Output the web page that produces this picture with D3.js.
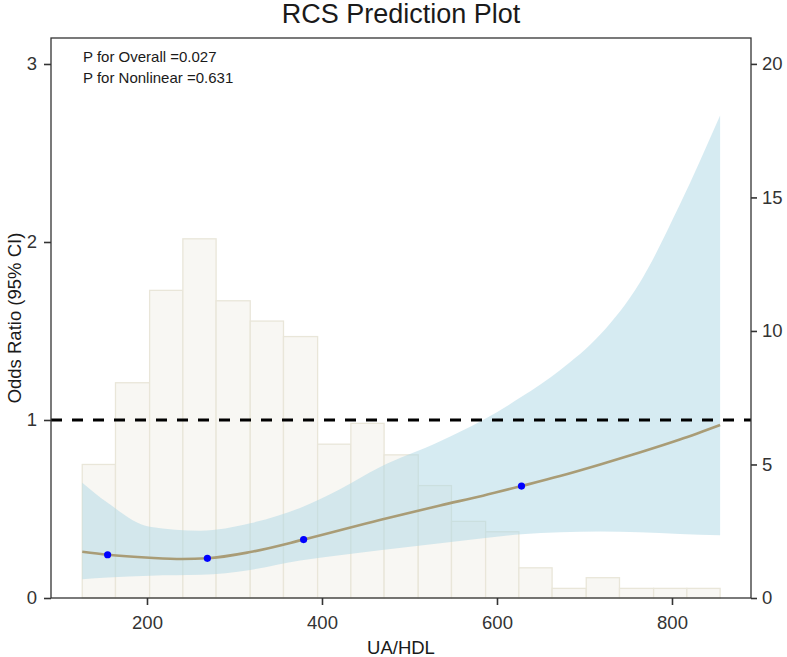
<!DOCTYPE html>
<html>
<head>
<meta charset="utf-8">
<script src="https://cdn.jsdelivr.net/npm/d3@7"></script>
<style>
body { margin: 0; background: #fff; }
text { font-family: "Liberation Sans", Arial, sans-serif; }
</style>
</head>
<body>
<svg id="chart" width="787" height="657"></svg>
<script>
// histogram of UA/HDL (percent, right axis)
var binEdges = [126, 164, 203, 241, 279, 318, 356, 395, 433, 471, 510, 548, 587, 625, 663, 702, 740, 779, 817, 855];
var binPercent = [5.0, 8.06, 11.52, 13.45, 11.13, 10.37, 9.79, 5.76, 6.54, 5.36, 4.21, 2.87, 2.48, 1.13, 0.36, 0.76, 0.36, 0.36, 0.36];

// fitted odds ratio
var fitX  = [126, 155, 203, 240, 269, 318, 379, 466, 535, 584, 628, 672, 718, 763, 809, 855];
var fitOR = [0.26, 0.243, 0.226, 0.219, 0.223, 0.258, 0.328, 0.438, 0.52, 0.575, 0.629, 0.685, 0.75, 0.817, 0.89, 0.972];

// 95% CI band
var bandX     = [126, 155, 203, 261, 318, 375, 420, 466, 535, 584, 628, 672, 718, 763, 809, 855];
var bandLower = [0.105, 0.115, 0.125, 0.13, 0.158, 0.21, 0.24, 0.268, 0.307, 0.335, 0.358, 0.37, 0.374, 0.37, 0.36, 0.352];
var bandUpper = [0.648, 0.535, 0.40, 0.378, 0.42, 0.506, 0.61, 0.734, 0.88, 1.0, 1.13, 1.28, 1.48, 1.77, 2.21, 2.71];

// knots
var knotX  = [155, 269, 379, 628];
var knotOR = [0.243, 0.223, 0.328, 0.629];

var xTicks = [200, 400, 600, 800];
var yTicks = [0, 1, 2, 3];
var y2Ticks = [0, 5, 10, 15, 20];
var pLabels = ["P for Overall =0.027", "P for Nonlinear =0.631"];

var padL = 51, padR = 751, padT = 38, padB = 598;

var svg = d3.select("#chart");

var x = d3.scaleLinear().domain([90.3, 890.3]).range([padL, padR]);
var y = d3.scaleLinear().domain([0, 3.146]).range([padB, padT]);
var y2 = d3.scaleLinear().domain([0, 20.97]).range([padB, padT]);

// bars
var bars = binPercent.map(function (p, i) {
  return { x0: binEdges[i], x1: binEdges[i + 1], p: p };
});
svg.append("g").selectAll("rect")
  .data(bars)
  .enter().append("rect")
  .attr("x", function (d) { return x(d.x0); })
  .attr("width", function (d) { return x(d.x1) - x(d.x0); })
  .attr("y", function (d) { return y2(d.p); })
  .attr("height", function (d) { return padB - y2(d.p); })
  .style("fill", "#f8f7f3")
  .style("stroke", "#e9e6d9")
  .style("stroke-width", 1.3);

// CI band
var band = bandX.map(function (v, i) { return { x: v, lo: bandLower[i], hi: bandUpper[i] }; });
svg.append("path")
  .datum(band)
  .attr("d", d3.area()
    .x(function (d) { return x(d.x); })
    .y0(function (d) { return y(d.lo); })
    .y1(function (d) { return y(d.hi); })
    .curve(d3.curveMonotoneX))
  .style("fill", "#add8e6")
  .style("fill-opacity", 0.5);

// reference line OR = 1
svg.append("line")
  .attr("x1", padL).attr("x2", padR)
  .attr("y1", y(1)).attr("y2", y(1))
  .style("stroke", "#000")
  .style("stroke-width", 3)
  .style("stroke-dasharray", "11,10");

// fitted line
var fit = fitX.map(function (v, i) { return { x: v, y: fitOR[i] }; });
svg.append("path")
  .datum(fit)
  .attr("d", d3.line()
    .x(function (d) { return x(d.x); })
    .y(function (d) { return y(d.y); })
    .curve(d3.curveMonotoneX))
  .style("fill", "none")
  .style("stroke", "#a99c76")
  .style("stroke-width", 2.6);

svg.append("g").selectAll("circle")
  .data(knotX)
  .enter().append("circle")
  .attr("cx", function (d) { return x(d); })
  .attr("cy", function (d, i) { return y(knotOR[i]); })
  .attr("r", 3.6)
  .style("fill", "#0000ff");

// frame
svg.append("rect")
  .attr("x", padL).attr("y", padT)
  .attr("width", padR - padL).attr("height", padB - padT)
  .style("fill", "none")
  .style("stroke", "#333")
  .style("stroke-width", 1.3);

function styleAxis(g) {
  g.select(".domain").remove();
  g.selectAll(".tick line").style("stroke", "#333").style("stroke-width", 1.6);
  g.selectAll(".tick text")
    .style("font-size", "18.5px")
    .style("fill", "#333")
    .style("font-family", "'Liberation Sans', Arial, sans-serif");
}

svg.append("g")
  .attr("transform", "translate(0," + padB + ")")
  .call(d3.axisBottom(x).tickValues(xTicks).tickSize(7).tickPadding(11))
  .call(styleAxis);

svg.append("g")
  .attr("transform", "translate(" + padL + ",0)")
  .call(d3.axisLeft(y).tickValues(yTicks).tickFormat(d3.format("d")).tickSize(7).tickPadding(7))
  .call(styleAxis);

svg.append("g")
  .attr("transform", "translate(" + padR + ",0)")
  .call(d3.axisRight(y2).tickValues(y2Ticks).tickFormat(d3.format("d")).tickSize(6).tickPadding(5))
  .call(styleAxis);

// titles
svg.append("text")
  .attr("x", (padL + padR) / 2).attr("y", 23)
  .attr("text-anchor", "middle")
  .style("font-size", "27px")
  .style("fill", "#1a1a1a")
  .text("RCS Prediction Plot");

svg.append("text")
  .attr("x", (padL + padR) / 2).attr("y", 654)
  .attr("text-anchor", "middle")
  .style("font-size", "18.5px")
  .style("fill", "#1a1a1a")
  .text("UA/HDL");

svg.append("text")
  .attr("transform", "translate(21," + (padT + padB) / 2 + ") rotate(-90)")
  .attr("text-anchor", "middle")
  .style("font-size", "18.5px")
  .style("fill", "#1a1a1a")
  .text("Odds Ratio (95% CI)");

svg.append("g").selectAll("text")
  .data(pLabels)
  .enter().append("text")
  .attr("x", 83)
  .attr("y", function (d, i) { return 61.7 + i * 21; })
  .style("font-size", "15px")
  .style("fill", "#1a1a1a")
  .text(function (d) { return d; });
</script>
</body>
</html>
